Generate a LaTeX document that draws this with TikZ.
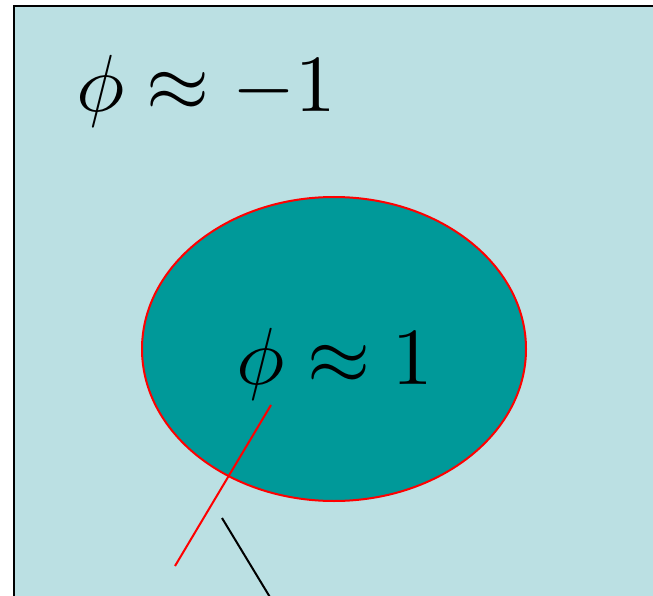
\documentclass[tikz,border=0pt]{standalone}
\usepackage{graphicx}
\usetikzlibrary{shapes.geometric}
\definecolor{bglight}{RGB}{187,224,227}
\definecolor{tealfill}{RGB}{0,153,153}
\tikzset{
  lbl/.style={inner sep=0pt, anchor=base},
  redline/.style={draw=red, line width=2pt},
  blackline/.style={draw=black, line width=2pt}
}
\newcommand{\bigmath}[1]{\scalebox{8.1}{$#1$}}
\begin{document}
\begin{tikzpicture}[x=1pt,y=-1pt]
\useasboundingbox (0,0) rectangle (653,596);
\begin{scope}
\clip (0,0) rectangle (653,596);
\fill[white] (0,0) rectangle (653,596);
\draw[fill=bglight, line width=2.2pt] (14,6) rectangle (720,700);
\node[ellipse, draw=red, line width=2pt, fill=tealfill, minimum width=384pt, minimum height=304pt, inner sep=0pt] (blob) at (334,349) {};
\node[lbl] (outer) at (206,112) {\bigmath{\phi\approx-1}};
\node[lbl] (inner) at (335,384) {\bigmath{\phi\approx1}};
\coordinate (r1) at (271,405);
\coordinate (r2) at (175,566);
\coordinate (b1) at (222,518);
\coordinate (b2) at (282,617);
\draw[redline] (r1) -- (r2);
\draw[blackline] (b1) -- (b2);
\end{scope}
\end{tikzpicture}
\end{document}
